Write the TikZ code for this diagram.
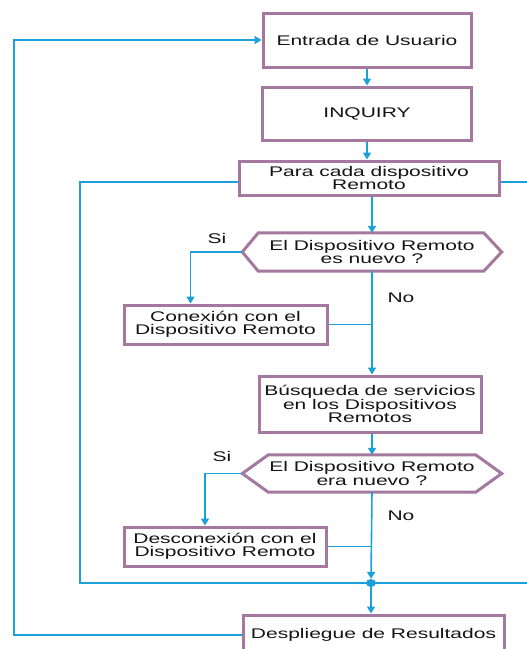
\documentclass[tikz,border=0pt]{standalone}
\usepackage{fontspec}
\setmainfont{Liberation Sans}[FakeStretch=1.5]
\usetikzlibrary{arrows.meta,shapes.geometric}
\definecolor{boxline}{RGB}{165,120,160}
\definecolor{flow}{RGB}{28,160,218}
\definecolor{ink}{RGB}{20,20,20}
\begin{document}
\begin{tikzpicture}[x=1pt,y=-1pt,
  box/.style={draw=boxline,line width=3pt,fill=white,inner sep=0pt,align=center,
    text=ink,font=\fontsize{14}{12.5}\selectfont},
  hexbox/.style={inner sep=0pt,align=center,text=ink,font=\fontsize{14}{12.5}\selectfont},
  hexline/.style={draw=boxline,line width=3pt,fill=white,line join=miter},
  lbl/.style={text=ink,font=\fontsize{14}{14}\selectfont},
  conn/.style={draw=flow,line width=1.6pt},
  arr/.style={conn,-{Triangle[width=8pt,length=7pt]}},
  dot/.style={ellipse,fill=flow,minimum width=10pt,minimum height=8pt,inner sep=0pt}]
\useasboundingbox (0,0) rectangle (527,649);
\clip (0,0) rectangle (527,649);

% process boxes
\node[box,minimum width=208pt,minimum height=54pt] (entrada) at (367,40) {Entrada de Usuario};
\node[box,minimum width=209pt,minimum height=53pt] (inquiry) at (367,113.5) {INQUIRY};
\node[box,minimum width=260pt,minimum height=34pt] (para) at (369,178) {Para cada dispositivo\\Remoto};
\node[box,minimum width=203pt,minimum height=39pt] (conex) at (225.5,324.5) {Conexión con el\\Dispositivo Remoto};
\node[box,minimum width=222pt,minimum height=56pt] (busq) at (370,404) {Búsqueda de servicios\\en los Dispositivos\\Remotos};
\node[box,minimum width=202pt,minimum height=39pt] (desc) at (225,546.5) {Desconexión con el\\Dispositivo Remoto};
\node[box,minimum width=261pt,minimum height=40pt] (desp) at (373.5,635) {Despliegue de Resultados};

% decision hexagons
\node[hexbox,minimum width=259pt,minimum height=38pt] (h1) at (372,252) {};
\draw[hexline] (h1.west) -- ([xshift=16pt]h1.north west) -- ([xshift=-18pt]h1.north east)
  -- (h1.east) -- ([xshift=-18pt]h1.south east) -- ([xshift=16pt]h1.south west) -- cycle;
\node[hexbox] at (h1) {El Dispositivo Remoto\\es nuevo ?};

\node[hexbox,minimum width=259pt,minimum height=37pt] (h2) at (372,473.5) {};
\draw[hexline] (h2.west) -- ([xshift=26pt]h2.north west) -- ([xshift=-26pt]h2.north east)
  -- (h2.east) -- ([xshift=-26pt]h2.south east) -- ([xshift=26pt]h2.south west) -- cycle;
\node[hexbox] at (h2) {El Dispositivo Remoto\\era nuevo ?};

% branch labels
\node[lbl] (si1) at (217,238) {Si};
\node[lbl] (no1) at (401,298) {No};
\node[lbl] (si2) at (222,456) {Si};
\node[lbl] (no2) at (401,516) {No};

% loop guides
\coordinate (lx) at (14,0);
\coordinate (ix) at (80,583);
\coordinate (rx) at (527,0);

% loop around the device list
\draw[conn] ([yshift=-4pt]para.west) -| (ix) -- (371,583) coordinate (jc) -- (jc -| rx);
\draw[conn] ([yshift=-4pt]para.east) -- ([yshift=-4pt]para.east -| rx);
\node[dot] (j) at (jc) {};

% main flow
\draw[arr] (entrada.south) -- (entrada.south |- inquiry.north);
\draw[arr] (inquiry.south) -- (inquiry.south |- para.north);
\draw[arr] (h1.north |- para.south) -- (h1.north);
\draw[arr] (h1.south) -- (h1.south |- busq.north);
\draw[arr] (h2.north |- busq.south) -- (h2.north);
\draw[arr] (h2.south) -- (j.north);
\draw[arr] (j.south) -- (j.south |- desp.north);

% yes branches
\draw[arr] (h1.west) -| ([xshift=-35pt]conex.north);
\draw[conn] (conex.east) -- (conex.east -| h1.south);
\draw[arr] (h2.west) -| ([xshift=-20pt]desc.north);
\draw[conn] (desc.east) -- (desc.east -| h2.south);

% return to user input
\draw[arr] (desp.west) -- (desp.west -| lx) |- (entrada.west);
\end{tikzpicture}
\end{document}
